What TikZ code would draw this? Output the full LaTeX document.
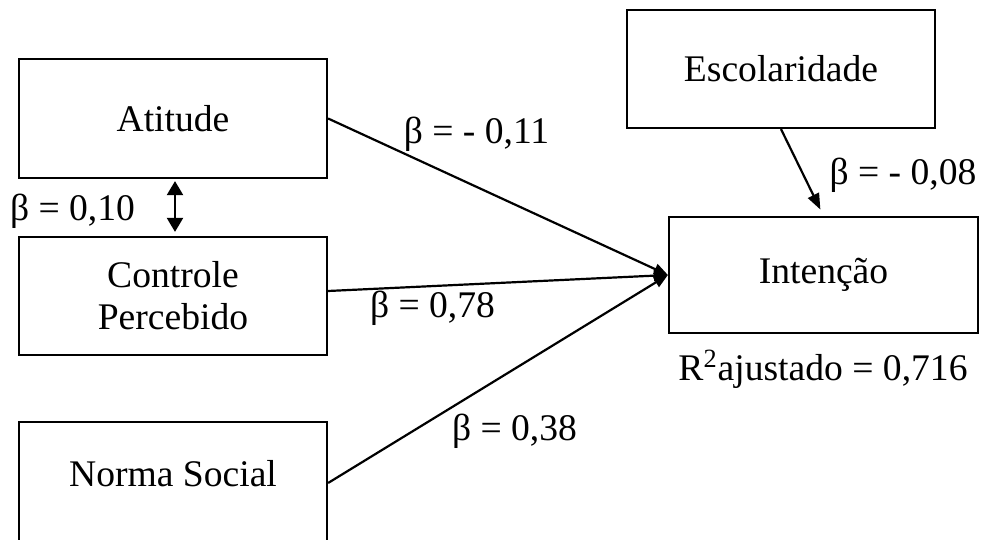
\documentclass[tikz,border=0pt]{standalone}
\usepackage{fontspec}
\setmainfont{Liberation Serif}
\usetikzlibrary{arrows.meta}
\begin{document}
\begin{tikzpicture}[x=0.5pt,y=-0.5pt,
  box/.style={draw,line width=1.1pt,inner sep=0pt,align=center,
    minimum width=154pt,font=\fontsize{18.8}{21}\selectfont},
  txt/.style={inner sep=0pt,font=\fontsize{18.8}{21}\selectfont},
  lbl/.style={txt,anchor=base},
  effect/.style={line width=1.1pt,-{Triangle[length=7pt,width=5.5pt]}}]
\useasboundingbox (0,0) rectangle (982,540);
\clip (0,0) rectangle (982,540);

% constructs
\node[box,minimum height=59.5pt] (at) at (173,118.5) {Atitude};
\node[box,minimum height=59pt] (ct) at (173,296) {Controle\\Percebido};
\node[box,minimum height=61pt] (ns) at (173,483) {};
\node[txt] (nst) at (173,474) {Norma Social};
\node[box,minimum height=59pt] (esc) at (781,69) {Escolaridade};
\node[box,minimum width=154.5pt,minimum height=58pt] (int) at (823.5,275) {Intenção};

% paths
\draw[effect] (at.east) -- (int.west);
\draw[effect] ([yshift=2.5pt]ct.east) -- (int.west);
\draw[effect] (ns.east) -- (int.west);
\draw[line width=1.1pt,-{Triangle[length=8pt,width=6pt]},shorten >=3.5pt]
  (esc.south) -- (int.north);
\draw[line width=1.1pt,{Triangle[length=7pt,width=8pt]}-{Triangle[length=7pt,width=8pt]},
  shorten <=1pt,shorten >=2pt] ([xshift=1pt]at.south) -- ([xshift=1pt]ct.north);

% coefficients
\node[lbl] (b1) at (476.5,144) {β = - 0,11};
\node[lbl] (b2) at (432.5,318) {β = 0,78};
\node[lbl] (b3) at (514.5,441) {β = 0,38};
\node[lbl] (b4) at (903,185) {β = - 0,08};
\node[lbl] (b5) at (72.5,221) {β = 0,10};
\node[lbl] (r2) at (823,380) {R\textsuperscript{2}ajustado = 0,716};
\end{tikzpicture}
\end{document}
